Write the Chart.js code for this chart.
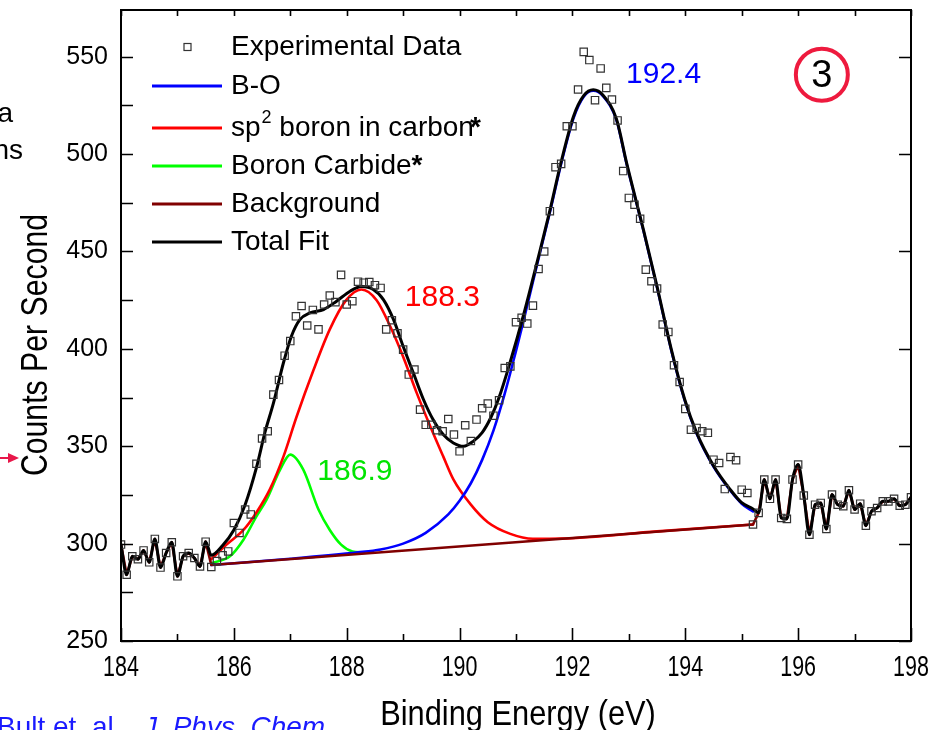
<!DOCTYPE html>
<html>
<head>
<meta charset="utf-8">
<script src="https://cdn.jsdelivr.net/npm/chart.js@4/dist/chart.umd.min.js"></script>
<style>
html,body{margin:0;padding:0;background:#fff;}
#wrap{position:relative;width:935px;height:730px;overflow:hidden;}
</style>
</head>
<body>
<div id="wrap"><canvas id="c" width="935" height="730"></canvas></div>
<script>
// ---------- data ----------
const expX = [
184.0,184.1,184.2,184.3,184.4,184.5,184.6,184.7,184.8,184.9,
185.0,185.1,185.2,185.3,185.4,185.5,185.6,185.7,185.8,185.9,
186.0,186.1,186.2,186.3,186.4,186.5,186.6,186.7,186.8,186.9,
187.0,187.1,187.2,187.3,187.4,187.5,187.6,187.7,187.8,187.9,
188.0,188.1,188.2,188.3,188.4,188.5,188.6,188.7,188.8,188.9,
189.0,189.1,189.2,189.3,189.4,189.5,189.6,189.7,189.8,189.9,
190.0,190.1,190.2,190.3,190.4,190.5,190.6,190.7,190.8,190.9,
191.0,191.1,191.2,191.3,191.4,191.5,191.6,191.7,191.8,191.9,
192.0,192.1,192.2,192.3,192.4,192.5,192.6,192.7,192.8,192.9,
193.0,193.1,193.2,193.3,193.4,193.5,193.6,193.7,193.8,193.9,
194.0,194.1,194.2,194.3,194.4,194.5,194.6,194.7,194.8,194.9,
195.0,195.1,195.2,195.3,195.4,195.5,195.6,195.7,195.8,195.9,
196.0,196.1,196.2,196.3,196.4,196.5,196.6,196.7,196.8,196.9,
197.0,197.1,197.2,197.3,197.4,197.5,197.6,197.7,197.8,197.9,
198.0];
const expY = [
299.5,284,293.5,292,296.5,290.4,302.4,287.7,295.2,300.7,
283.2,293.5,295.2,292.6,288.3,301,288,291,294,296,
310.6,305.5,317.5,315,341,354,357.7,376.5,384,396.5,
404,416.7,422,412,420,410,422.8,427.4,424,438,
422.8,424.5,434.5,434,434.3,432.7,431.3,410,414.7,408,
399.6,386.8,389.4,368.8,361,361,358.2,357.7,364,356,
347.4,360.8,352.7,363.7,369.5,371.9,365.7,373.6,390.2,391,
413.7,416,413,422.2,441,450,470.7,493.3,495,514.3,
514.3,533.2,552.5,548.3,527.7,544,534,528,517.3,491.3,
477.5,474,466.8,440.7,434.7,431,412.5,408.7,391.6,383,
369.2,358.5,359.4,357.7,356.9,343.1,341.4,328,344.5,342.8,
327.7,326,309.8,315.8,332.9,323,332.9,313.2,312.7,332.9,
340.6,324.7,304.6,320,320.9,307.5,325.2,320,319.2,327.4,
317.5,320.5,309.2,316.6,318.3,321.7,321.7,323,319.5,320,
323.8];

// Total fit (smooth part, 185.6 - 195.2 eV)
const fitX = [185.6,185.8,186.0,186.2,186.4,186.55,186.7,186.88,187.02,187.17,187.35,187.59,187.82,188.06,188.26,188.47,188.65,188.83,189.0,189.18,189.36,189.53,189.71,189.89,190.07,190.24,190.4,190.55,190.7,190.9,191.13,191.43,191.6,191.8,192.02,192.2,192.37,192.55,192.78,192.96,193.26,193.5,193.75,193.99,194.2,194.5,194.79,195.0,195.2];
const fitY = [294,299,307,320,339,357,372,393,406.5,415,418.5,420.2,424.5,429.6,432,430.5,425.3,415,401.3,387.7,374,363.7,356,351.7,350,352.5,357,364.5,375,393.5,417,451,471,496,519.5,530,533,530,518,495.5,461,432,400,374,357,340,328,321,317.8];

// B-O component
const boX = [185.6,187.0,188.2,188.6,189.0,189.4,189.8,190.0,190.2,190.4,190.6,190.8,191.0,191.13,191.43,191.6,191.8,192.02,192.2,192.37,192.55,192.78,192.96,193.26,193.5,193.75,193.99,194.2,194.5,194.79,195.0,195.2];
const boY = [289,292.2,295.5,297,300,305.5,315,322,331,343,358,377,399,414,450,470,495,518.5,529.5,532.5,529.5,517.5,495,460.5,431.5,399.5,373.5,356.5,339.5,327.5,320.5,316.5];

// sp2 boron in carbon component
const spX = [185.6,185.87,186.17,186.4,186.64,186.88,187.11,187.41,187.7,187.99,188.26,188.53,188.77,189.0,189.24,189.48,189.71,189.89,190.2,190.5,190.9,191.3,191.8,193.5,195.2];
const spY = [292,299.5,307,316,328,344.8,365,389,410,425,430.5,425,411.6,396,377.4,360.3,344.8,333,320,311,305,302.5,302.6,306.3,309.8];

// Boron carbide component
const bcX = [185.6,185.93,186.17,186.4,186.58,186.82,187.0,187.23,187.5,187.7,187.9,188.1,188.3];
const bcY = [290,293.5,302,314,322.6,338,345.7,338,317.5,307,299.5,296,295.4];

// Linear background between the fit limits
const bgX = [185.6,195.2];
const bgY = [289,309.8];

// Axis ticks
const xTicks = [184,186,188,190,192,194,196,198];
const xMinorTicks = [185,187,189,191,193,195,197];
const yTicks = [250,300,350,400,450,500,550];
const yMinorTicks = [275,325,375,425,475,525];

// Texts
const xTitle = 'Binding Energy (eV)';
const yTitle = 'Counts Per Second';
const peakLabels = [
  {text:'192.4', x:192.95, y:536.5, color:'#0000ff'},
  {text:'188.3', x:189.03, y:421.8, color:'#ff0000'},
  {text:'186.9', x:187.48, y:332.7, color:'#00e400'}
];

// ---------- build datasets ----------
const pts = (xs, ys) => xs.map((x, i) => ({x: x, y: ys[i]}));
const expPts = pts(expX, expY);
const leftNoise = expPts.filter(p => p.x < 185.55);
const rightNoise = expPts.filter(p => p.x > 195.25);

const FONT = '"Liberation Sans", Arial, sans-serif';
Chart.defaults.font.family = FONT;
Chart.defaults.color = '#000';

const lineBase = {showLine:true, pointRadius:0, pointHoverRadius:0, fill:false, borderJoinStyle:'round', borderCapStyle:'round'};

const datasets = [
  {label:'Experimental Data', data:expPts, showLine:false, pointStyle:'rect', pointRadius:5.2, pointHoverRadius:5.2,
   pointBorderWidth:1.2, pointBorderColor:'#333', pointBackgroundColor:'rgba(255,255,255,0)', order:0},
  Object.assign({label:'Total Fit', data:[...leftNoise, ...pts(fitX, fitY), ...rightNoise],
   borderColor:'#000', borderWidth:3, cubicInterpolationMode:'monotone', order:1}, lineBase),
  Object.assign({label:'Background', data:[...leftNoise, ...pts(bgX, bgY), ...rightNoise],
   borderColor:'#800000', borderWidth:2.6, tension:0, order:2}, lineBase),
  Object.assign({label:'B-O', data:pts(boX, boY),
   borderColor:'#0000ff', borderWidth:2.6, cubicInterpolationMode:'monotone', order:3}, lineBase),
  Object.assign({label:'sp2 boron in carbon*', data:pts(spX, spY),
   borderColor:'#ff0000', borderWidth:2.6, cubicInterpolationMode:'monotone', order:4}, lineBase),
  Object.assign({label:'Boron Carbide*', data:pts(bcX, bcY),
   borderColor:'#00ff00', borderWidth:2.6, cubicInterpolationMode:'monotone', order:5}, lineBase)
];

// condensed text helper
function condensedText(ctx, text, x, y, sx, rot) {
  ctx.save();
  ctx.translate(x, y);
  if (rot) ctx.rotate(rot);
  ctx.scale(sx, 1);
  ctx.fillText(text, 0, 0);
  ctx.restore();
}

// ---------- plugins ----------
const framePlugin = {
  id:'frame',
  afterDatasetsDraw(chart){
    const ctx = chart.ctx, a = chart.chartArea, xs = chart.scales.x, ys = chart.scales.y;
    ctx.save();
    ctx.strokeStyle = '#000';
    ctx.lineWidth = 2;
    ctx.strokeRect(a.left, a.top, a.right - a.left, a.bottom - a.top);
    ctx.lineWidth = 1.6;
    ctx.beginPath();
    [...yTicks, ...yMinorTicks].forEach(v => {
      const y = Math.round(ys.getPixelForValue(v)) + 0.5;
      ctx.moveTo(a.left, y); ctx.lineTo(a.left + 12, y);
    });
    yTicks.forEach(v => {
      const y = Math.round(ys.getPixelForValue(v)) + 0.5;
      ctx.moveTo(a.right, y); ctx.lineTo(a.right - 12, y);
    });
    xTicks.forEach(v => {
      const x = Math.round(xs.getPixelForValue(v)) + 0.5;
      ctx.moveTo(x, a.bottom); ctx.lineTo(x, a.bottom - 13);
    });
    xMinorTicks.forEach(v => {
      const x = Math.round(xs.getPixelForValue(v)) + 0.5;
      ctx.moveTo(x, a.bottom); ctx.lineTo(x, a.bottom - 7);
    });
    [...xTicks, ...xMinorTicks].forEach(v => {
      const x = Math.round(xs.getPixelForValue(v)) + 0.5;
      ctx.moveTo(x, a.top); ctx.lineTo(x, a.top + 6);
    });
    ctx.stroke();
    ctx.restore();
  }
};

const annotPlugin = {
  id:'annot',
  afterDraw(chart){
    const ctx = chart.ctx, a = chart.chartArea, xs = chart.scales.x, ys = chart.scales.y;
    const dsBy = l => chart.data.datasets.find(d => d.label === l);
    ctx.save();

    // x tick labels (condensed, as in the reference)
    ctx.fillStyle = '#000';
    ctx.font = '29px ' + FONT;
    ctx.textAlign = 'center'; ctx.textBaseline = 'alphabetic';
    xTicks.forEach(v => condensedText(ctx, String(v), xs.getPixelForValue(v), 676, 0.74, 0));

    // axis titles
    ctx.font = '35px ' + FONT;
    condensedText(ctx, xTitle, (a.left + a.right) / 2 + 2, 725, 0.88, 0);
    ctx.font = '36px ' + FONT;
    condensedText(ctx, yTitle, 47, 345, 0.84, -Math.PI / 2);

    // legend
    const rows = [
      {label:'Experimental Data', y:47},
      {label:'B-O', y:86},
      {label:'sp2 boron in carbon*', y:128},
      {label:'Boron Carbide*', y:166},
      {label:'Background', y:204},
      {label:'Total Fit', y:242}
    ];
    const lx0 = 152, lx1 = 222, tx = 231;
    rows.forEach(r => {
      const ds = dsBy(r.label);
      if (ds.showLine === false) {
        ctx.strokeStyle = ds.pointBorderColor; ctx.lineWidth = 1.2;
        ctx.strokeRect(184, r.y - 3.5, 7, 7);
      } else {
        ctx.strokeStyle = ds.borderColor; ctx.lineWidth = 3;
        ctx.beginPath(); ctx.moveTo(lx0, r.y); ctx.lineTo(lx1, r.y); ctx.stroke();
      }
      ctx.fillStyle = '#000';
      ctx.textBaseline = 'middle';
      ctx.textAlign = 'left';
      const f = '28px ' + FONT, fb = 'bold 28px ' + FONT, fs = '18px ' + FONT;
      if (r.label === 'sp2 boron in carbon*') {
        ctx.font = f; ctx.fillText('sp', tx, r.y);
        let x = tx + ctx.measureText('sp').width + 1;
        ctx.font = fs; ctx.fillText('2', x, r.y - 10);
        x += ctx.measureText('2').width;
        ctx.font = f; ctx.fillText(' boron in carbon', x, r.y);
        x += ctx.measureText(' boron in carbon').width - 4;
        ctx.font = fb; ctx.fillText('*', x, r.y);
      } else if (r.label === 'Boron Carbide*') {
        ctx.font = f; ctx.fillText('Boron Carbide', tx, r.y);
        const x = tx + ctx.measureText('Boron Carbide').width;
        ctx.font = fb; ctx.fillText('*', x, r.y);
      } else {
        ctx.font = f; ctx.fillText(r.label, tx, r.y);
      }
    });

    // peak labels
    ctx.textBaseline = 'alphabetic';
    ctx.font = '30px ' + FONT;
    peakLabels.forEach(p => {
      ctx.fillStyle = p.color;
      ctx.fillText(p.text, xs.getPixelForValue(p.x), ys.getPixelForValue(p.y));
    });

    // circled 3
    const cx = xs.getPixelForValue(196.42), cy = ys.getPixelForValue(540.8);
    ctx.strokeStyle = '#ee1a3e'; ctx.lineWidth = 4;
    ctx.beginPath(); ctx.arc(cx, cy, 26, 0, Math.PI * 2); ctx.stroke();
    ctx.fillStyle = '#000'; ctx.font = '38px ' + FONT;
    ctx.textAlign = 'center'; ctx.textBaseline = 'middle';
    ctx.fillText('3', cx, cy + 2);

    // fragments of surrounding slide text
    ctx.textAlign = 'right'; ctx.textBaseline = 'alphabetic';
    ctx.fillStyle = '#000'; ctx.font = '28px ' + FONT;
    ctx.fillText('a', 13, 122);
    ctx.fillText('ns', 23, 159);
    ctx.fillStyle = '#e8174a'; ctx.strokeStyle = '#e8174a'; ctx.lineWidth = 2;
    ctx.beginPath(); ctx.moveTo(0, 458); ctx.lineTo(10, 458); ctx.stroke();
    ctx.beginPath(); ctx.moveTo(8, 453); ctx.lineTo(19, 458); ctx.lineTo(8, 463); ctx.closePath(); ctx.fill();
    ctx.textAlign = 'left';
    ctx.fillStyle = '#1a1aff';
    ctx.font = '28px ' + FONT;
    const ref1 = 'Bult et. al., ';
    ctx.fillText(ref1, -3, 736);
    const w1 = ctx.measureText(ref1).width;
    ctx.font = 'italic 28px ' + FONT;
    ctx.fillText('J. Phys. Chem', -3 + w1 + 6, 736);
    ctx.restore();
  }
};

const zeroPad = s => { s.paddingTop = 0; s.paddingBottom = 0; s.paddingLeft = 0; s.paddingRight = 0; };

new Chart(document.getElementById('c').getContext('2d'), {
  type:'scatter',
  data:{datasets:datasets},
  options:{
    responsive:false,
    animation:false,
    devicePixelRatio:1,
    events:[],
    layout:{padding:{left:0, right:24, top:10, bottom:0}},
    plugins:{legend:{display:false}, tooltip:{enabled:false}},
    scales:{
      x:{
        type:'linear', min:184, max:198,
        grid:{display:false, drawTicks:false}, border:{display:false},
        afterBuildTicks: s => { s.ticks = xTicks.map(v => ({value:v})); },
        afterFit: s => { s.height = 89; zeroPad(s); },
        ticks:{display:false},
        title:{display:false, text:xTitle}
      },
      y:{
        type:'linear', min:250, max:574,
        grid:{display:false, drawTicks:false}, border:{display:false},
        afterBuildTicks: s => { s.ticks = yTicks.map(v => ({value:v})); },
        afterFit: s => { s.width = 121; zeroPad(s); },
        ticks:{color:'#000', font:{size:25}, padding:13, autoSkip:false},
        title:{display:false, text:yTitle}
      }
    }
  },
  plugins:[framePlugin, annotPlugin]
});
</script>
</body>
</html>
